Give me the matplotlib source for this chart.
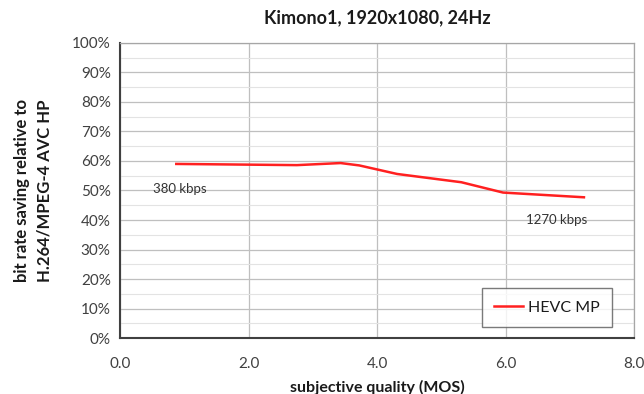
import matplotlib
matplotlib.use("Agg")
import matplotlib.pyplot as plt
from matplotlib.ticker import MultipleLocator, FuncFormatter

title = "Kimono1, 1920x1080, 24Hz"
series_name = "HEVC MP"
mos = [0.87, 2.75, 3.43, 3.72, 4.31, 5.31, 5.96, 7.22]
saving = [59.0, 58.6, 59.3, 58.5, 55.6, 52.8, 49.3, 47.7]
ann_labels = ["380 kbps", "1270 kbps"]
ann_pos = [(0.93, 50.5), (6.8, 40.0)]

plt.rcParams['font.family'] = ['Lato', 'DejaVu Sans']
fig = plt.figure(figsize=(6.44, 3.94), dpi=100)
ax = fig.add_axes([0.187, 0.142, 0.7975, 0.749])

ax.plot(mos, saving, color='#ff2020', lw=1.8, label=series_name, zorder=3)
for t, (x, y) in zip(ann_labels, ann_pos):
    ax.text(x, y, t, ha='center', va='center', fontsize=9.5, color='#333333')

ax.set_xlim(0, 8)
ax.set_ylim(0, 100)
ax.xaxis.set_major_locator(MultipleLocator(2))
ax.yaxis.set_major_locator(MultipleLocator(10))
ax.yaxis.set_minor_locator(MultipleLocator(5))
ax.xaxis.set_major_formatter(FuncFormatter(lambda v, p: f"{v:.1f}"))
ax.yaxis.set_major_formatter(FuncFormatter(lambda v, p: f"{v:.0f}%"))
ax.grid(which='major', color='#bfbfbf', lw=0.9)
ax.grid(which='minor', axis='y', color='#e3e3e3', lw=0.8)
ax.set_axisbelow(True)
ax.tick_params(which='both', length=0, labelsize=11, colors='#404040')
ax.tick_params(axis='x', pad=14)
ax.tick_params(axis='y', pad=7)

for s in ['top', 'right']:
    ax.spines[s].set_color('#a6a6a6')
    ax.spines[s].set_linewidth(0.9)
for s in ['left', 'bottom']:
    ax.spines[s].set_color('#404040')
    ax.spines[s].set_linewidth(1.5)

ax.set_title(title, fontsize=13, fontweight='bold', color='#1a1a1a', pad=14)
ax.set_xlabel("subjective quality (MOS)", fontsize=11.5, fontweight='bold', color='#1a1a1a', labelpad=6)
ax.set_ylabel("bit rate saving relative to\nH.264/MPEG-4 AVC HP", fontsize=12, fontweight='bold',
              color='#1a1a1a', labelpad=14, linespacing=1.5)

leg = ax.legend(loc='lower right', bbox_to_anchor=(0.958, 0.036), fontsize=11.5, frameon=True,
                fancybox=False, edgecolor='#595959', handlelength=1.8, borderpad=0.8,
                borderaxespad=0, handletextpad=0.3)
leg.get_frame().set_linewidth(1.0)
for t in leg.get_texts():
    t.set_color('#1a1a1a')

fig.savefig("out.png", dpi=100)
